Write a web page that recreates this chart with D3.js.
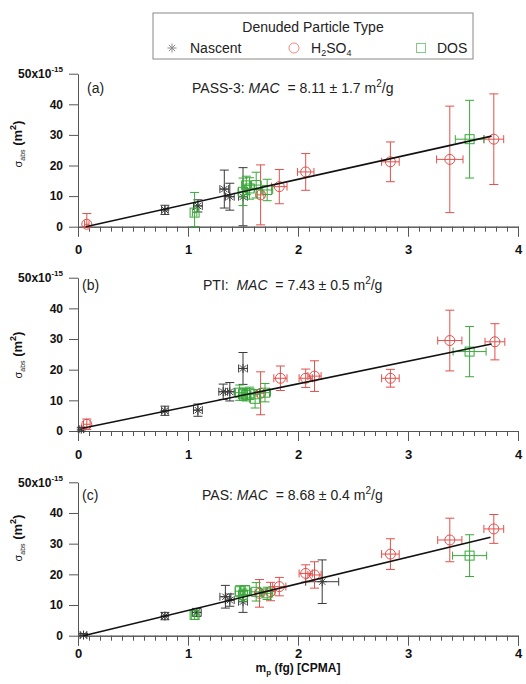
<!DOCTYPE html>
<html><head><meta charset="utf-8">
<script src="https://cdn.jsdelivr.net/npm/d3@7"></script>
<style>body{margin:0;background:#fff}svg{display:block;font-family:Arial,"Liberation Sans",sans-serif}</style>
</head><body><svg id="c" width="526" height="684"></svg>
<script>
const xTicks=[0,1,2,3,4];
const yTicks=[0,10,20,30,40,50];
const panelLetters=["(a)","(b)","(c)"];
const instruments=["PASS-3: ","PTI:  ","PAS: "];
const macText=["8.11 ± 1.7","7.43 ± 0.5","8.68 ± 0.4"];
const fitX=[[0.07,3.76],[0.04,3.76],[0.05,3.75]];
const fitY=[[0,29.6],[0.9,28.4],[0,32.1]];
const seriesNames=["Nascent","H2SO4","DOS"];
// points: [x (fg), sigma (1e-15 m2), xErr, yErr]
const nascentA=[[0.79,5.5,0.03,1.5],[1.09,6.8,0.04,2],[1.33,12.3,0.04,6.2],[1.38,9.8,0.04,4.4],[1.50,9.8,0.04,9.5]];
const h2so4A=[[0.08,0.8,0.02,3.5],[1.66,10.4,0.03,9.8],[1.83,13.1,0.07,5.6],[2.07,17.9,0.075,6],[2.84,21.2,0.08,6.5],[3.38,22,0.12,17.4],[3.78,28.6,0.09,14.8]];
const dosA=[[1.06,4.6,0.02,6.6],[1.50,11.4,0.045,4.5],[1.53,13.5,0.04,3],[1.56,12.5,0.045,3.5],[1.62,13.6,0.045,4.2],[1.72,12,0.05,3.5],[3.56,28.6,0.13,12.7]];
const nascentB=[[0.03,0.6,0.02,0.6],[0.79,6.6,0.03,1.5],[1.09,6.8,0.04,2],[1.32,12.8,0.04,2.5],[1.38,12.8,0.04,3],[1.50,20.4,0.04,5.2]];
const h2so4B=[[0.08,2.2,0.03,1.7],[1.66,12.3,0.03,7],[1.84,17.2,0.06,4],[2.07,17.2,0.06,3],[2.15,17.9,0.06,5],[2.84,17.2,0.08,2.9],[3.38,29.5,0.11,9.9],[3.79,29.1,0.09,5.9]];
const dosB=[[1.47,12.5,0.04,2.5],[1.50,12,0.04,2],[1.53,11.8,0.04,2],[1.56,12.3,0.04,2],[1.61,10.5,0.05,3],[1.70,12.5,0.05,3],[3.56,25.9,0.15,8.2]];
const nascentC=[[0.05,0.2,0.03,0.5],[0.79,6.4,0.03,1.2],[1.08,7.6,0.04,1.3],[1.34,12.7,0.05,3.7],[1.38,11.6,0.04,2],[1.50,11.1,0.04,3.5],[2.22,17.6,0.15,7.1]];
const h2so4C=[[1.65,13.8,0.04,4.5],[1.75,14.4,0.04,3],[1.83,16,0.06,3],[2.07,20.3,0.06,2.8],[2.15,19.8,0.06,4.3],[2.84,26.6,0.08,5],[3.38,31.2,0.11,7.1],[3.78,34.8,0.09,4.7]];
const dosC=[[1.06,6.8,0.03,1.5],[1.47,14.5,0.04,1.8],[1.50,13.2,0.04,2],[1.52,14.8,0.04,1.5],[1.62,14.3,0.05,3],[1.72,13.8,0.05,2],[3.56,26.1,0.155,6.8]];

const panels=[[nascentA,h2so4A,dosA],[nascentB,h2so4B,dosB],[nascentC,h2so4C,dosC]];
const colors=["#3a3a3a","#e0504c","#3aa83a"];
const legendColors=["#8a8a8a","#ef8a86","#86c886"];
const svg=d3.select("#c");
const x=d3.scaleLinear().domain([0,4]).range([78,518]);
const tops=[73.7,277.7,482.3], bots=[226.7,431,635.7];
const labelPad=[8.5,9,3];
const titleY=[93,290,500];
const titleX=[192,203,202];
const yTitleC=[144,355,538];

function marker(g,type,cx,cy,col){
  if(type===0){
    const r=4.5;
    const p=[[0,-r,0,r],[-r,0,r,0],[-r*0.7,-r*0.7,r*0.7,r*0.7],[-r*0.7,r*0.7,r*0.7,-r*0.7]];
    p.forEach(s=>g.append("line").attr("x1",cx+s[0]).attr("y1",cy+s[1]).attr("x2",cx+s[2]).attr("y2",cy+s[3]).attr("stroke",col).attr("stroke-width",1));
  } else if(type===1){
    g.append("circle").attr("cx",cx).attr("cy",cy).attr("r",5).attr("fill","none").attr("stroke",col).attr("stroke-width",1);
  } else {
    g.append("rect").attr("x",cx-4.5).attr("y",cy-4.5).attr("width",9).attr("height",9).attr("fill","none").attr("stroke",col).attr("stroke-width",1);
  }
}

panels.forEach((series,pi)=>{
  const y=d3.scaleLinear().domain([0,50]).range([bots[pi],tops[pi]]);
  const g=svg.append("g");
  g.append("g").attr("transform",`translate(0,${bots[pi]})`)
    .call(d3.axisBottom(x).tickValues(d3.range(0,40.5).map(v=>v/10)).tickSize(5).tickFormat(""))
    .call(a=>{a.selectAll("path,line").attr("stroke","#555");});
  const xa=g.append("g").attr("transform",`translate(0,${bots[pi]})`)
    .call(d3.axisBottom(x).tickValues(xTicks).tickSize(10).tickPadding(labelPad[pi]).tickFormat(d3.format("d")));
  xa.selectAll("path,line").attr("stroke","#555");
  xa.selectAll("text").attr("font-size",13).attr("font-weight","bold").attr("fill","#111").attr("font-family","Arial, 'Liberation Sans', sans-serif");
  const ya=g.append("g").attr("transform","translate(78,0)")
    .call(d3.axisLeft(y).tickValues(yTicks).tickSize(9).tickPadding(6).tickSizeOuter(0));
  ya.selectAll("path,line").attr("stroke","#555");
  ya.selectAll("text").attr("font-size",12).attr("font-weight","bold").attr("fill","#111").attr("font-family","Arial, 'Liberation Sans', sans-serif")
    .each(function(d){
      if(d===50){
        const t=d3.select(this); t.text(null);
        t.append("tspan").text("50x10");
        t.append("tspan").attr("font-size",8).attr("dy",-6).text("-15");
      }
    });
  const yt=g.append("text").attr("transform",`translate(22,${yTitleC[pi]}) rotate(-90)`).attr("text-anchor","middle").attr("fill","#111");
  yt.append("tspan").attr("font-size",11).text("σ");
  yt.append("tspan").attr("font-size",7).attr("dy",3).text("abs");
  yt.append("tspan").attr("font-size",13).attr("font-weight","bold").attr("dy",-3).text(" (m");
  yt.append("tspan").attr("font-size",9).attr("font-weight","bold").attr("dy",-6).text("2");
  yt.append("tspan").attr("font-size",13).attr("font-weight","bold").attr("dy",6).text(")");
  g.append("text").attr("x",pi===0?87:82).attr("y",titleY[pi]).attr("font-size",14).attr("fill","#222").text(panelLetters[pi]);
  const tt=g.append("text").attr("x",titleX[pi]).attr("y",titleY[pi]).attr("font-size",14).attr("fill","#222").attr("xml:space","preserve");
  tt.append("tspan").text(instruments[pi]);
  tt.append("tspan").attr("font-style","italic").text("MAC");
  tt.append("tspan").text("  = "+macText[pi]+" m");
  tt.append("tspan").attr("font-size",10).attr("dy",-6).text("2");
  tt.append("tspan").attr("dy",6).text("/g");
  series.forEach((pts,si)=>{
    const col=colors[si];
    const sg=g.append("g");
    pts.forEach(p=>{
      const cx=x(p[0]), cy=y(p[1]);
      const yTop=y(Math.min(50,p[1]+p[3])), yBot=y(Math.max(0,p[1]-p[3]));
      const xl=x(Math.max(0,p[0]-p[2])), xr=x(p[0]+p[2]);
      const eg=sg.append("g").attr("stroke",col).attr("stroke-width",1);
      eg.append("line").attr("x1",cx).attr("x2",cx).attr("y1",yTop).attr("y2",yBot);
      eg.append("line").attr("x1",cx-4.5).attr("x2",cx+4.5).attr("y1",yTop).attr("y2",yTop);
      eg.append("line").attr("x1",cx-4.5).attr("x2",cx+4.5).attr("y1",yBot).attr("y2",yBot);
      eg.append("line").attr("x1",xl).attr("x2",xr).attr("y1",cy).attr("y2",cy);
      eg.append("line").attr("x1",xl).attr("x2",xl).attr("y1",cy-4).attr("y2",cy+4);
      eg.append("line").attr("x1",xr).attr("x2",xr).attr("y1",cy-4).attr("y2",cy+4);
      marker(sg,si,cx,cy,col);
    });
  });
  g.append("path").datum(d3.zip(fitX[pi],fitY[pi]))
    .attr("d",d3.line().x(d=>x(d[0])).y(d=>y(d[1])))
    .attr("stroke","#111").attr("stroke-width",1.6).attr("fill","none");
});

const xt=svg.append("text").attr("x",298).attr("y",672).attr("text-anchor","middle").attr("font-size",12).attr("font-weight","bold").attr("fill","#111");
xt.append("tspan").text("m");
xt.append("tspan").attr("font-size",8).attr("dy",3).text("p");
xt.append("tspan").attr("dy",-3).text(" (fg) [CPMA]");

const lg=svg.append("g");
lg.append("rect").attr("x",153).attr("y",13).attr("width",320).attr("height",46).attr("fill","#fff").attr("stroke","#888").attr("stroke-width",1);
lg.append("text").attr("x",313).attr("y",32).attr("text-anchor","middle").attr("font-size",14).attr("fill","#222").text("Denuded Particle Type");
const lx=[172,294,421], tx=[190,311,437];
seriesNames.forEach((n,i)=>{
  marker(lg,i,lx[i],48,legendColors[i]);
  const t=lg.append("text").attr("x",tx[i]).attr("y",53).attr("font-size",14).attr("fill","#222");
  if(n==="H2SO4"){
    t.append("tspan").text("H");
    t.append("tspan").attr("font-size",9).attr("dy",3).text("2");
    t.append("tspan").attr("dy",-3).text("SO");
    t.append("tspan").attr("font-size",9).attr("dy",3).text("4");
  } else t.text(n);
});
</script></body></html>
